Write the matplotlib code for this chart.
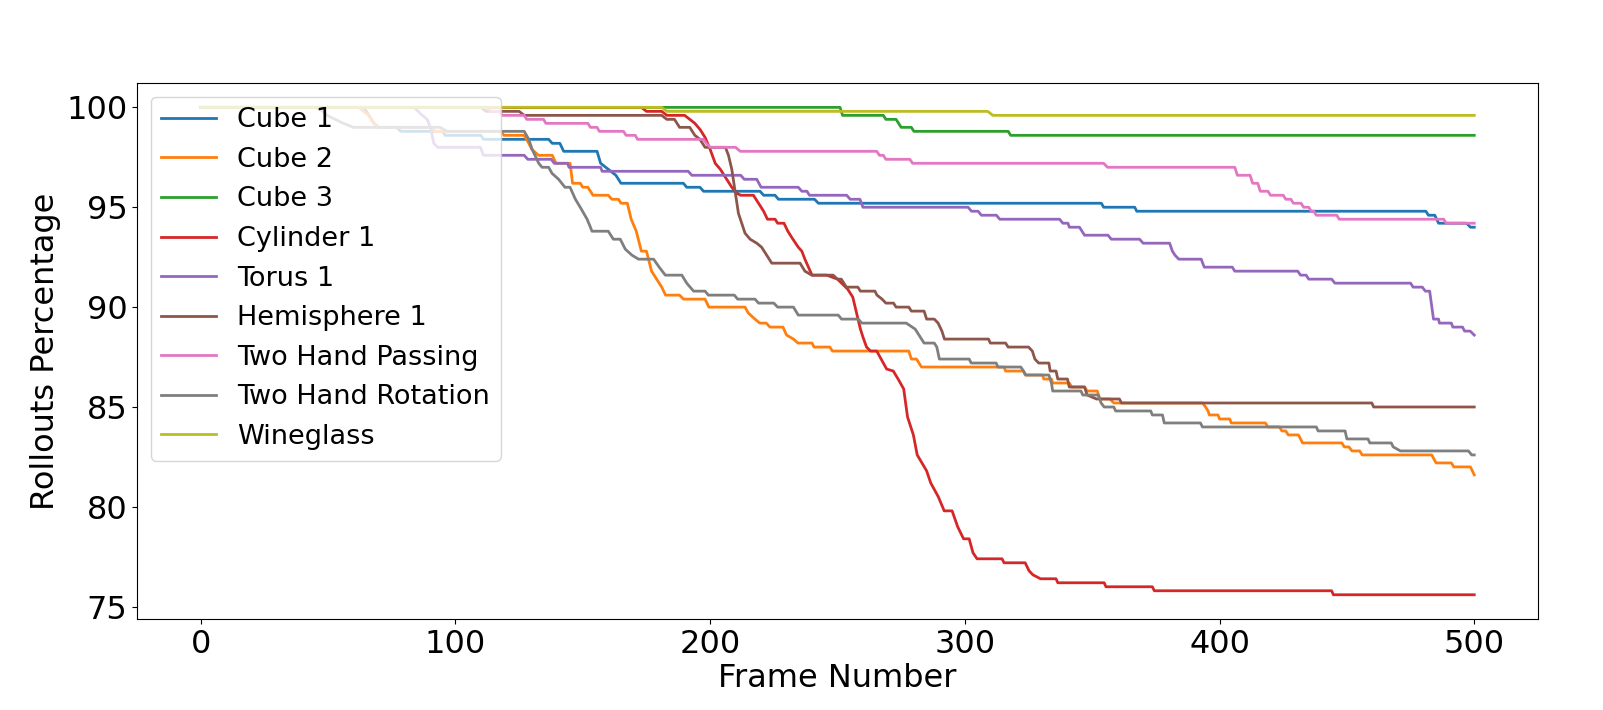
import matplotlib
matplotlib.use("Agg")
import matplotlib.pyplot as plt

# (frame, rollouts %) knots
cube1 = [(0, 100), (64, 100), (66, 99.6), (68, 99.2), (70, 99.0), (77, 99.0), (78.5, 98.8), (95, 98.8),
         (96, 98.6), (110, 98.6), (111, 98.4), (136.6, 98.4), (138, 98.2), (141, 98.2), (142.5, 97.8),
         (155.6, 97.8), (157, 97.2), (159, 97.0), (161, 96.8), (163, 96.6), (165, 96.2), (189.5, 96.2),
         (190.8, 96.0), (196, 96.0), (197.4, 95.8), (219.6, 95.8), (221, 95.6), (225.5, 95.6),
         (226.8, 95.4), (241, 95.4), (242.5, 95.2), (353.6, 95.2), (354.5, 95.0), (366.7, 95.0),
         (367.5, 94.8), (481, 94.8), (482, 94.6), (484.5, 94.6), (486, 94.2), (497, 94.2),
         (498.5, 94.0), (500, 94.0)]

cube2 = [(0, 100), (62, 100), (64, 99.8), (66, 99.6), (68, 99.2), (70, 99.0), (90, 99.0), (92, 98.8),
         (118, 98.8), (119, 98.6), (127, 98.6), (128.8, 98.2), (130, 97.9), (132.6, 97.6), (138, 97.6),
         (139.5, 97.2), (145, 97.2), (146, 96.2), (149, 96.2), (150, 96.0), (152, 96.0), (154, 95.6),
         (160, 95.6), (161.4, 95.4), (164, 95.4), (165, 95.2), (167.5, 95.2), (169, 94.4), (171, 93.8),
         (173, 92.8), (175, 92.8), (177, 91.8), (179, 91.4), (181, 91.0), (182.5, 90.6), (188, 90.6),
         (189.5, 90.4), (198, 90.4), (199.5, 90.0), (213.7, 90.0), (215, 89.7), (217.6, 89.4),
         (219.5, 89.2), (222, 89.2), (223.5, 89.0), (228.6, 89.0), (230, 88.6), (232.7, 88.4),
         (234.5, 88.2), (240, 88.2), (240.8, 88.0), (247, 88.0), (248, 87.8), (278, 87.8), (279, 87.4),
         (281, 87.4), (283, 87.0), (315.4, 87.0), (316, 86.8), (323, 86.8), (323.7, 86.6), (330.5, 86.6),
         (331, 86.4), (334, 86.4), (334.5, 86.2), (341, 86.2), (342, 86.0), (347, 86.0), (348, 85.8),
         (352, 85.8), (353, 85.4), (357, 85.4), (358.5, 85.2), (393.3, 85.2), (394.5, 85.0), (395.5, 84.8),
         (396, 84.6), (399.4, 84.6), (400, 84.4), (404, 84.4), (404.6, 84.2), (418, 84.2), (419, 84.0),
         (423.5, 84.0), (424.5, 83.8), (426, 83.8), (427, 83.6), (431, 83.6), (432.6, 83.2), (448, 83.2),
         (449, 83.0), (450.8, 83.0), (452, 82.8), (455, 82.8), (456, 82.6), (483.3, 82.6), (485, 82.2),
         (491, 82.2), (492, 82.0), (498.5, 82.0), (500, 81.6)]

cube3 = [(0, 100), (251, 100), (252, 99.6), (268, 99.6), (269, 99.4), (273, 99.4), (275, 99.0),
         (279, 99.0), (280, 98.8), (317, 98.8), (318, 98.6), (500, 98.6)]

cylinder1 = [(0, 100), (173, 100), (175, 99.8), (181, 99.8), (183, 99.6), (190, 99.6), (192, 99.4),
             (194, 99.2), (196, 98.9), (198, 98.5), (200, 97.9), (202, 97.2), (204, 96.9), (206.5, 96.4),
             (208.5, 96.0), (210.5, 95.7), (212, 95.6), (217, 95.6), (219, 95.2), (221, 94.8),
             (222.5, 94.4), (225.5, 94.4), (226.5, 94.2), (229, 94.2), (230.5, 93.8), (232.5, 93.4),
             (234.6, 93.0), (236, 92.8), (237.2, 92.4), (238.6, 92.0), (240, 91.6), (245.8, 91.6),
             (250, 91.4), (254, 90.9), (256, 90.5), (257.5, 89.7), (259, 88.9), (260, 88.5), (261.4, 88.0),
             (263, 87.8), (265.4, 87.8), (266.7, 87.5), (269.3, 86.9), (271.9, 86.8), (273.8, 86.4),
             (276, 85.9), (277.5, 84.5), (279.8, 83.6), (281.3, 82.6), (285, 81.8), (286.6, 81.2),
             (289.6, 80.5), (291.9, 79.8), (295, 79.8), (297.2, 79.0), (299.5, 78.4), (301.7, 78.4),
             (303.2, 77.7), (304.8, 77.4), (314.6, 77.4), (315.4, 77.2), (323.7, 77.2), (325.2, 76.8),
             (326.7, 76.6), (329.7, 76.4), (335.8, 76.4), (336.5, 76.2), (354.7, 76.2), (355.4, 76.0),
             (373.6, 76.0), (374.4, 75.8), (444, 75.8), (444.7, 75.6), (500, 75.6)]

torus1 = [(0, 100), (83.7, 100), (87, 99.6), (88.9, 99.4), (90.2, 99.0), (91.5, 98.2), (93, 98.0),
          (109.8, 98.0), (111, 97.6), (127, 97.6), (128.4, 97.4), (137.6, 97.4), (138.8, 97.2), (144, 97.2),
          (144.6, 97.0), (157, 97.0), (157.6, 96.8), (191.4, 96.8), (192.8, 96.6), (212, 96.6),
          (213.4, 96.4), (218.3, 96.4), (220, 96.0), (234.6, 96.0), (236, 95.8), (238, 95.8), (239, 95.6),
          (253.6, 95.6), (255, 95.4), (258.8, 95.4), (260, 95.0), (301.3, 95.0), (302.6, 94.8),
          (305.2, 94.8), (306.5, 94.6), (312.4, 94.6), (313.7, 94.4), (337.2, 94.4), (338.5, 94.2),
          (340.5, 94.2), (341, 94.0), (345, 94.0), (347, 93.6), (356.2, 93.6), (357.5, 93.4),
          (368.6, 93.4), (370, 93.2), (380.4, 93.2), (381.5, 92.8), (382.5, 92.6), (384, 92.4),
          (392.8, 92.4), (394, 92.0), (405, 92.0), (406, 91.8), (430.7, 91.8), (431.8, 91.6), (434, 91.6),
          (435, 91.4), (444, 91.4), (445.3, 91.2), (475, 91.2), (476, 91.0), (479.6, 91.0), (480.8, 90.8),
          (482.5, 90.8), (484, 89.4), (486, 89.4), (486.3, 89.2), (491, 89.2), (491.6, 89.0),
          (495.4, 89.0), (496.2, 88.8), (498.4, 88.8), (500, 88.6)]

hemisphere1 = [(0, 100), (110, 100), (112, 99.8), (125, 99.8), (127, 99.6), (181, 99.6), (183, 99.4),
               (186, 99.4), (188, 99.0), (192, 99.0), (194, 98.6), (196, 98.4), (198, 98.0), (206, 98.0),
               (207.2, 97.6), (208.5, 96.9), (209.8, 95.8), (211.1, 94.7), (212.4, 94.2), (213.7, 93.7),
               (215.7, 93.4), (218.3, 93.2), (220.2, 93.0), (222.2, 92.6), (224.2, 92.2), (235.3, 92.2),
               (237.2, 91.8), (239.9, 91.6), (248.3, 91.6), (250, 91.4), (251.5, 91.4), (253.5, 91.0),
               (258, 91.0), (259, 90.8), (264.7, 90.8), (265.5, 90.6), (267.5, 90.4), (269, 90.2),
               (272, 90.2), (273, 90.0), (278, 90.0), (279, 89.8), (284, 89.8), (285, 89.4), (288, 89.4),
               (289.5, 89.2), (291, 88.8), (292, 88.4), (309.3, 88.4), (310, 88.2), (316, 88.2),
               (317, 88.0), (325, 88.0), (326.5, 87.8), (327.5, 87.4), (329, 87.2), (333, 87.2),
               (333.5, 86.8), (335.8, 86.8), (336.5, 86.4), (340.3, 86.4), (341, 86.0), (347, 86.0),
               (348, 85.6), (351.7, 85.4), (360.7, 85.4), (361.5, 85.2), (459.8, 85.2), (460.5, 85.0),
               (500, 85.0)]

two_hand_passing = [(0, 100), (112, 100), (114, 99.8), (117, 99.8), (118.5, 99.6), (127, 99.6),
                    (128, 99.4), (134.6, 99.4), (135.5, 99.2), (152, 99.2), (153, 99.0), (155.6, 99.0),
                    (156.5, 98.8), (166, 98.8), (167, 98.6), (170.6, 98.6), (171.5, 98.4), (197.4, 98.4),
                    (198.5, 98.2), (200, 98.0), (210, 98.0), (211.8, 97.8), (265.4, 97.8), (266.5, 97.6),
                    (268, 97.6), (269, 97.4), (278.4, 97.4), (279.5, 97.2), (354.5, 97.2), (356, 97.0),
                    (406, 97.0), (407, 96.6), (412, 96.6), (413, 96.2), (415, 96.2), (416, 95.8),
                    (419, 95.8), (420, 95.6), (425, 95.6), (426, 95.4), (428, 95.4), (429, 95.2),
                    (432, 95.2), (433, 95.0), (435, 95.0), (436, 94.8), (437, 94.8), (438, 94.6),
                    (446, 94.6), (447, 94.4), (488, 94.4), (489, 94.2), (500, 94.2)]

two_hand_rotation = [(0, 100), (45, 100), (47, 99.9), (49.6, 99.6), (56, 99.2), (60, 99.0), (94, 99.0),
                     (96.7, 98.8), (127, 98.8), (128.8, 98.4), (130.1, 97.9), (132.7, 97.2), (134, 97.0),
                     (136.6, 97.0), (137.9, 96.7), (140.5, 96.4), (143, 96.0), (145, 96.0), (147.1, 95.4),
                     (149, 95.0), (151.7, 94.4), (153, 94.0), (153.6, 93.8), (160, 93.8), (162, 93.4),
                     (164.7, 93.4), (166.7, 92.9), (169.3, 92.6), (171.9, 92.4), (177.8, 92.4), (180, 92.0),
                     (182.4, 91.6), (188.9, 91.6), (190.8, 91.2), (193.5, 90.8), (198, 90.8), (199.3, 90.6),
                     (209.5, 90.6), (210.8, 90.4), (217.6, 90.4), (219, 90.2), (225, 90.2), (226.5, 90.0),
                     (232.7, 90.0), (234.6, 89.6), (250.3, 89.6), (251.6, 89.4), (258.2, 89.4),
                     (259.5, 89.2), (277, 89.2), (280.5, 88.9), (282, 88.6), (284, 88.2), (288, 88.2),
                     (289, 88.0), (290, 87.4), (301.7, 87.4), (302.5, 87.2), (312.3, 87.2), (313, 87.0),
                     (322, 87.0), (323, 86.8), (324, 86.6), (333, 86.6), (334, 86.2), (334.5, 85.8),
                     (345.6, 85.8), (346.3, 85.6), (352.4, 85.6), (353.5, 85.2), (354.7, 85.0),
                     (358.5, 85.0), (359.2, 84.8), (373, 84.8), (373.6, 84.6), (377.6, 84.6), (378.3, 84.2),
                     (392.5, 84.2), (393.3, 84.0), (438, 84.0), (438.7, 83.8), (449.3, 83.8), (450, 83.4),
                     (458.3, 83.4), (459, 83.2), (467.4, 83.2), (468.2, 83.0), (471, 82.8), (497.7, 82.8),
                     (499, 82.6), (500, 82.6)]

wineglass = [(0, 100), (181, 100), (183, 99.8), (309, 99.8), (311, 99.6), (500, 99.6)]

labels = ["Cube 1", "Cube 2", "Cube 3", "Cylinder 1", "Torus 1", "Hemisphere 1",
          "Two Hand Passing", "Two Hand Rotation", "Wineglass"]
series = [cube1, cube2, cube3, cylinder1, torus1, hemisphere1,
          two_hand_passing, two_hand_rotation, wineglass]


def main():
    fig = plt.figure(figsize=(16.03, 7.1), dpi=100)
    ax = fig.add_axes([0.0855, 0.128, 0.8739, 0.7551])

    for label, knots in zip(labels, series):
        frames = [k[0] for k in knots]
        pct = [k[1] for k in knots]
        ax.plot(frames, pct, label=label, linewidth=2)

    ax.set_xlabel("Frame Number", fontsize=23, labelpad=2)
    ax.set_ylabel("Rollouts Percentage", fontsize=23)
    ax.tick_params(axis="both", labelsize=23)
    ax.set_yticks([75, 80, 85, 90, 95, 100])
    ax.legend(loc="upper left", fontsize=19.5)

    fig.savefig("out.png", dpi=100)


if __name__ == "__main__":
    main()
